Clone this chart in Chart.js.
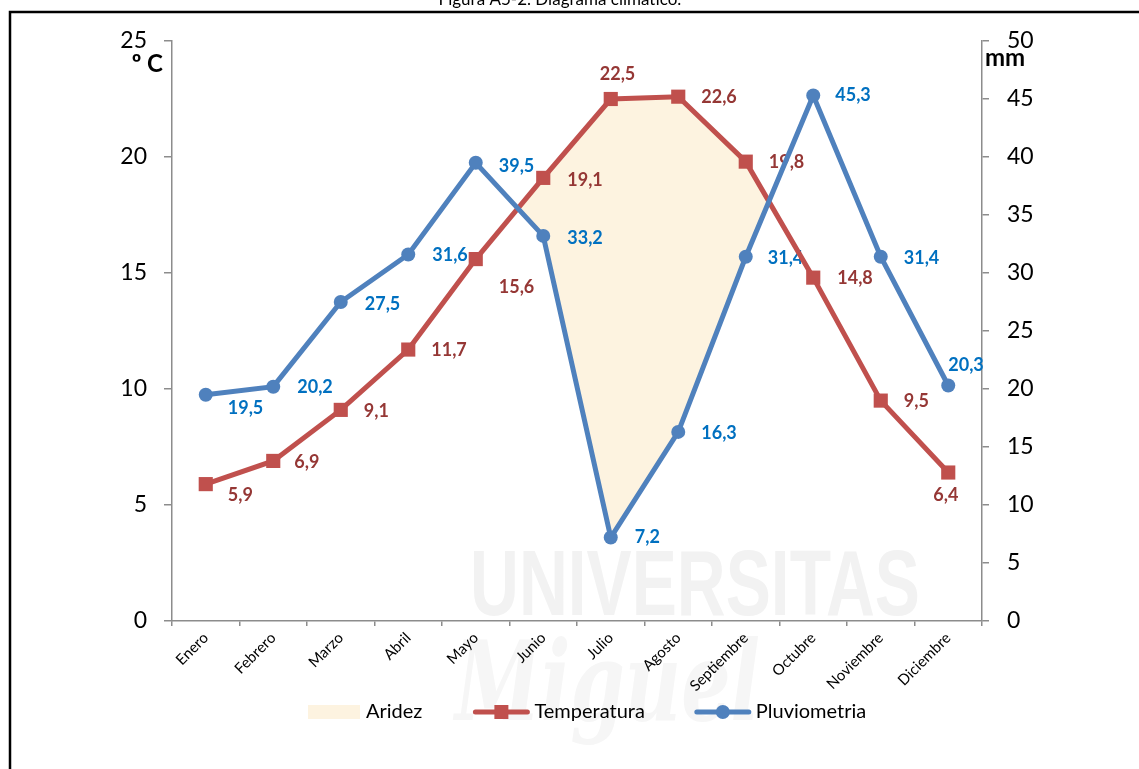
<!DOCTYPE html>
<html>
<head>
<meta charset="utf-8">
<title>Diagrama climático</title>
<script src="https://cdn.jsdelivr.net/npm/chart.js@4.4.1/dist/chart.umd.min.js"></script>
<style>
  html, body { margin: 0; padding: 0; background: #ffffff; }
  #wrap { position: relative; width: 1139px; height: 769px; overflow: hidden; }
  canvas { display: block; }
</style>
</head>
<body>
<div id="wrap"><canvas id="chart" width="1139" height="769"></canvas></div>
<script>
// ---- Data ----
const meses = ['Enero', 'Febrero', 'Marzo', 'Abril', 'Mayo', 'Junio', 'Julio',
               'Agosto', 'Septiembre', 'Octubre', 'Noviembre', 'Diciembre'];
const temperatura = [5.9, 6.9, 9.1, 11.7, 15.6, 19.1, 22.5, 22.6, 19.8, 14.8, 9.5, 6.4];   // ºC
const pluviometria = [19.5, 20.2, 27.5, 31.6, 39.5, 33.2, 7.2, 16.3, 31.4, 45.3, 31.4, 20.3]; // mm
const ejeTemp = { min: 0, max: 25, paso: 5 };
const ejeLluvia = { min: 0, max: 50, paso: 5 };

// ---- Styling ----
const FONT = 'Lato, "Open Sans", "DejaVu Sans", sans-serif';
const colorAridez = '#FDF3E0';
const colorTemp = '#C0504D';
const colorTempTxt = '#953735';
const colorLluvia = '#4F81BD';
const colorLluviaTxt = '#0070C0';
const colorEje = '#8C8C8C';

// value label offsets (left edge of text, vertical centre) relative to each point
const offsetsTemp = [[22, 11], [21, 1], [23, 1], [23, 1], [23, 28], [24, 2],
                     [-11, -25], [23, 1], [23, 1], [24, 1], [23, 1], [-15, 23]];
const offsetsLluvia = [[22, 13], [24, 1], [24, 2], [24, 1], [23, 3], [24, 2],
                       [24, 0], [23, 1], [22, 1], [22, 0], [23, 1], [0, -20]];

const fmt = v => v.toFixed(1).replace('.', ',');

// white page + faint background watermark
const fondo = {
  id: 'fondo',
  beforeDraw(chart) {
    const ctx = chart.ctx;
    ctx.save();
    ctx.fillStyle = '#ffffff';
    ctx.fillRect(0, 0, chart.width, chart.height);
    // watermark lettering
    ctx.fillStyle = '#f2f2f2';
    ctx.textBaseline = 'alphabetic';
    ctx.font = 'bold 92px "Liberation Sans", sans-serif';
    let w = ctx.measureText('UNIVERSITAS').width;
    ctx.save();
    ctx.translate(470, 615);
    ctx.scale(450 / w, 1);
    ctx.fillText('UNIVERSITAS', 0, 0);
    ctx.restore();
    ctx.fillStyle = '#f6f6f6';
    ctx.font = 'italic bold 110px "DejaVu Serif", serif';
    w = ctx.measureText('Miguel').width;
    ctx.save();
    ctx.translate(455, 720);
    ctx.scale(305 / w, 1);
    ctx.fillText('Miguel', 0, 0);
    ctx.restore();
    ctx.restore();
  }
};

// value labels drawn just after the aridity fill, below the lines
const etiquetas = {
  id: 'etiquetas',
  afterDatasetDraw(chart, args) {
    if (args.index !== 0) return;
    const ctx = chart.ctx;
    ctx.save();
    ctx.font = 'bold 18px ' + FONT;
    ctx.textAlign = 'left';
    ctx.textBaseline = 'middle';
    const sets = [[1, offsetsTemp, colorTempTxt], [2, offsetsLluvia, colorLluviaTxt]];
    sets.forEach(([idx, offs, col]) => {
      const meta = chart.getDatasetMeta(idx);
      const vals = chart.data.datasets[idx].data;
      ctx.fillStyle = col;
      meta.data.forEach((pt, i) => {
        ctx.fillText(fmt(vals[i]), pt.x + offs[i][0], pt.y + offs[i][1]);
      });
    });
    ctx.restore();
  }
};

// frame, title, axis units and legend
const adornos = {
  id: 'adornos',
  afterDraw(chart) {
    const ctx = chart.ctx;
    const ds = chart.data.datasets;
    ctx.save();
    // frame
    ctx.strokeStyle = '#000000';
    ctx.lineWidth = 2.5;
    ctx.beginPath();
    ctx.moveTo(10, 800);
    ctx.lineTo(10, 12);
    ctx.lineTo(1145, 12);
    ctx.stroke();
    // title
    ctx.fillStyle = '#000000';
    ctx.font = '17px ' + FONT;
    ctx.textAlign = 'center';
    ctx.textBaseline = 'alphabetic';
    ctx.fillText('Figura A5-2. Diagrama climático.', 560, 5);
    // axis units
    ctx.font = 'bold 24px ' + FONT;
    ctx.textAlign = 'right';
    ctx.fillText('º C', 163, 72);
    ctx.textAlign = 'left';
    ctx.fillText('mm', 985, 66);
    // legend
    const y = 712;
    let x = 308;
    ctx.font = '20px ' + FONT;
    ctx.textBaseline = 'middle';
    ctx.textAlign = 'left';
    // Aridez swatch
    ctx.fillStyle = colorAridez;
    ctx.fillRect(x, y - 7, 52, 14);
    x += 58;
    ctx.fillStyle = '#000';
    ctx.fillText(ds[0].label, x, y);
    x += ctx.measureText(ds[0].label).width + 50;
    // Temperatura
    ctx.strokeStyle = colorTemp;
    ctx.lineWidth = 5;
    ctx.lineCap = 'round';
    ctx.beginPath(); ctx.moveTo(x + 3, y); ctx.lineTo(x + 55, y); ctx.stroke();
    ctx.fillStyle = colorTemp;
    ctx.fillRect(x + 29 - 7, y - 7, 14, 14);
    x += 62;
    ctx.fillStyle = '#000';
    ctx.fillText(ds[1].label, x, y);
    x += ctx.measureText(ds[1].label).width + 49;
    // Pluviometria
    ctx.strokeStyle = colorLluvia;
    ctx.beginPath(); ctx.moveTo(x + 3, y); ctx.lineTo(x + 55, y); ctx.stroke();
    ctx.fillStyle = colorLluvia;
    ctx.beginPath(); ctx.arc(x + 29, y, 7, 0, Math.PI * 2); ctx.fill();
    x += 62;
    ctx.fillStyle = '#000';
    ctx.fillText(ds[2].label, x, y);
    ctx.restore();
  }
};

new Chart(document.getElementById('chart'), {
  type: 'line',
  data: {
    labels: meses,
    datasets: [
      {
        label: 'Aridez',
        data: temperatura,
        yAxisID: 'y',
        order: 2,
        borderWidth: 0,
        borderColor: 'rgba(0,0,0,0)',
        pointRadius: 0,
        tension: 0,
        fill: { target: 2, above: colorAridez, below: 'rgba(0,0,0,0)' }
      },
      {
        label: 'Temperatura',
        data: temperatura,
        yAxisID: 'y',
        order: 1,
        borderColor: colorTemp,
        borderWidth: 5,
        pointStyle: 'rect',
        pointRadius: 10,
        pointBackgroundColor: colorTemp,
        pointBorderColor: colorTemp,
        pointBorderWidth: 0,
        tension: 0,
        fill: false
      },
      {
        label: 'Pluviometria',
        data: pluviometria,
        yAxisID: 'y1',
        order: 0,
        borderColor: colorLluvia,
        borderWidth: 5,
        pointStyle: 'circle',
        pointRadius: 7,
        pointBackgroundColor: colorLluvia,
        pointBorderColor: colorLluvia,
        pointBorderWidth: 0,
        tension: 0,
        fill: false
      }
    ]
  },
  options: {
    responsive: false,
    animation: false,
    devicePixelRatio: 1,
    layout: { padding: { top: 41, left: 0, right: 0, bottom: 0 } },
    plugins: {
      legend: { display: false },
      title: { display: false },
      tooltip: { enabled: false }
    },
    scales: {
      x: {
        type: 'category',
        offset: true,
        grid: { display: true, drawOnChartArea: false, drawTicks: true, tickLength: 5,
                color: colorEje, lineWidth: 1.5, offset: true },
        border: { color: colorEje, width: 1.5 },
        ticks: { minRotation: 45, maxRotation: 45, autoSkip: false, color: '#000',
                 font: { family: FONT, size: 15 }, padding: 3 },
        afterFit(s) { s.height = 769 - 621; }
      },
      y: {
        position: 'left',
        min: ejeTemp.min, max: ejeTemp.max,
        grid: { drawOnChartArea: false, drawTicks: true, tickLength: 8, color: colorEje, lineWidth: 1.5 },
        border: { color: colorEje, width: 1.5 },
        ticks: { stepSize: ejeTemp.paso, color: '#000', font: { family: FONT, size: 23 }, padding: 17 },
        afterFit(s) { s.width = 172; }
      },
      y1: {
        position: 'right',
        min: ejeLluvia.min, max: ejeLluvia.max,
        grid: { drawOnChartArea: false, drawTicks: true, tickLength: 7, color: colorEje, lineWidth: 1.5 },
        border: { color: colorEje, width: 1.5 },
        ticks: { stepSize: ejeLluvia.paso, color: '#000', font: { family: FONT, size: 23 }, padding: 18 },
        afterFit(s) { s.width = 1139 - 982; }
      }
    }
  },
  plugins: [fondo, etiquetas, adornos]
});
</script>
</body>
</html>
